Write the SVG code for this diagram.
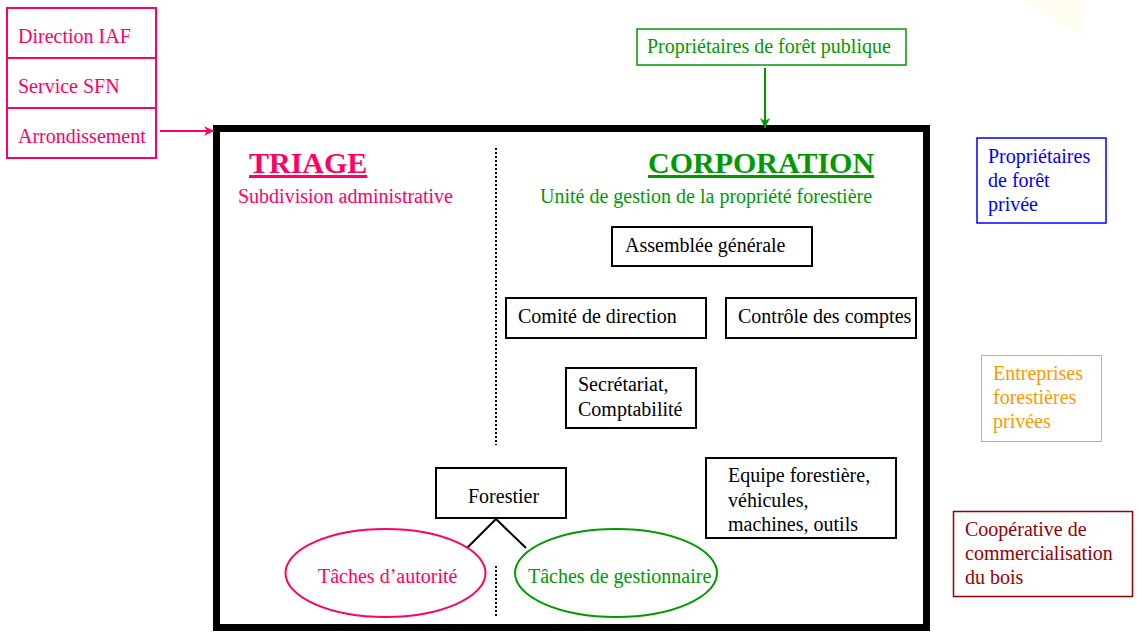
<svg xmlns="http://www.w3.org/2000/svg" width="1138" height="635" viewBox="0 0 1138 635">
<style>
text{font-family:"Liberation Serif","Times New Roman",serif;font-size:20px}
.k{fill:#000}
.pk{fill:#ff0066}
.gr{fill:#009900}
.box{fill:#fff;stroke:#000;stroke-width:2}
.title{font-size:30px;font-weight:bold;text-decoration:underline}
</style>
<defs>
<marker id="ap" viewBox="0 0 10 10" refX="10" refY="5" markerWidth="10" markerHeight="10" markerUnits="userSpaceOnUse" orient="auto"><path d="M0,0 L10,5 L0,10 L3,5 z" fill="#ff0066"/></marker>
<marker id="ag" viewBox="0 0 10 10" refX="10" refY="5" markerWidth="10" markerHeight="10" markerUnits="userSpaceOnUse" orient="auto"><path d="M0,0 L10,5 L0,10 L3,5 z" fill="#009900"/></marker>
</defs>
<rect width="1138" height="635" fill="#fff"/>
<polygon points="1020,0 1083,0 1083,36" fill="#fffdf2"/>

<g id="frame">
<rect x="216.5" y="128.5" width="710" height="499" fill="none" stroke="#000" stroke-width="7"/>
</g>

<g id="connectors">
<line x1="160" y1="131" x2="214" y2="131" stroke="#ff0066" stroke-width="2" marker-end="url(#ap)"/>
<line x1="765" y1="68" x2="765" y2="128" stroke="#009900" stroke-width="2" marker-end="url(#ag)"/>
<line x1="496" y1="148" x2="496" y2="445" stroke="#000" stroke-width="2" stroke-dasharray="2,2"/>
<line x1="496" y1="566" x2="496" y2="616" stroke="#000" stroke-width="2" stroke-dasharray="2,2"/>
<polyline points="467,548 496,519 526,548" fill="none" stroke="#000" stroke-width="2"/>
</g>

<g id="admin">
<rect x="7" y="8" width="149" height="150" fill="#fff" stroke="#ff0066" stroke-width="2"/>
<line x1="7" y1="58" x2="156" y2="58" stroke="#ff0066" stroke-width="2"/>
<line x1="7" y1="108" x2="156" y2="108" stroke="#ff0066" stroke-width="2"/>
<text x="18" y="43" class="pk">Direction IAF</text>
<text x="18" y="93" class="pk">Service SFN</text>
<text x="18" y="143" class="pk">Arrondissement</text>
</g>

<g id="public">
<rect x="637" y="29" width="269" height="36" fill="#fff" stroke="#009900" stroke-width="1.5"/>
<text x="647" y="53" class="gr">Propriétaires de forêt publique</text>
</g>

<g id="triage">
<text x="249" y="173" class="pk title">TRIAGE</text>
<text x="238" y="203" class="pk">Subdivision administrative</text>
</g>

<g id="corporation">
<text x="648" y="173" class="gr title">CORPORATION</text>
<text x="540" y="203" class="gr">Unité de gestion de la propriété forestière</text>
</g>

<g id="assemblee">
<rect x="612" y="227" width="200" height="39" class="box"/>
<text x="625" y="252" class="k">Assemblée générale</text>
</g>

<g id="comite">
<rect x="506" y="298" width="200" height="40" class="box"/>
<text x="518" y="323" class="k">Comité de direction</text>
</g>

<g id="controle">
<rect x="726" y="298" width="190" height="40" class="box"/>
<text x="738" y="323" class="k">Contrôle des comptes</text>
</g>

<g id="secretariat">
<rect x="566" y="368" width="130" height="60" class="box"/>
<text x="578" y="391" class="k">Secrétariat,</text>
<text x="578" y="416" class="k">Comptabilité</text>
</g>

<g id="forestier">
<rect x="436" y="468" width="130" height="50" class="box"/>
<text x="468" y="503" class="k">Forestier</text>
</g>

<g id="equipe">
<rect x="706" y="458" width="190" height="80" class="box"/>
<text x="728" y="482" class="k">Equipe forestière,</text>
<text x="728" y="507" class="k">véhicules,</text>
<text x="728" y="531" class="k">machines, outils</text>
</g>

<g id="autorite">
<ellipse cx="385.5" cy="573" rx="100" ry="44" fill="none" stroke="#ff0066" stroke-width="2"/>
<text x="318" y="583" class="pk">Tâches d’autorité</text>
</g>

<g id="gestionnaire">
<ellipse cx="616" cy="573" rx="101" ry="44" fill="none" stroke="#009900" stroke-width="2"/>
<text x="528" y="583" class="gr">Tâches de gestionnaire</text>
</g>

<g id="prive">
<rect x="977" y="138" width="129" height="85" fill="#fff" stroke="#0000ff" stroke-width="1.5"/>
<text x="988" y="163" fill="#0000ff">Propriétaires</text>
<text x="988" y="187" fill="#0000ff">de forêt</text>
<text x="988" y="211" fill="#0000ff">privée</text>
</g>

<g id="entreprises">
<rect x="981.5" y="355.5" width="120" height="86" fill="#fff" stroke="#f4a640" stroke-width="1"/>
<text x="993" y="380" fill="#ff9900">Entreprises</text>
<text x="993" y="404" fill="#ff9900">forestières</text>
<text x="993" y="428" fill="#ff9900">privées</text>
</g>

<g id="cooperative">
<rect x="953.5" y="511.5" width="179" height="85" fill="#fff" stroke="#990000" stroke-width="1.5"/>
<text x="965" y="536" fill="#990000">Coopérative de</text>
<text x="965" y="560" fill="#990000">commercialisation</text>
<text x="965" y="584" fill="#990000">du bois</text>
</g>
</svg>
